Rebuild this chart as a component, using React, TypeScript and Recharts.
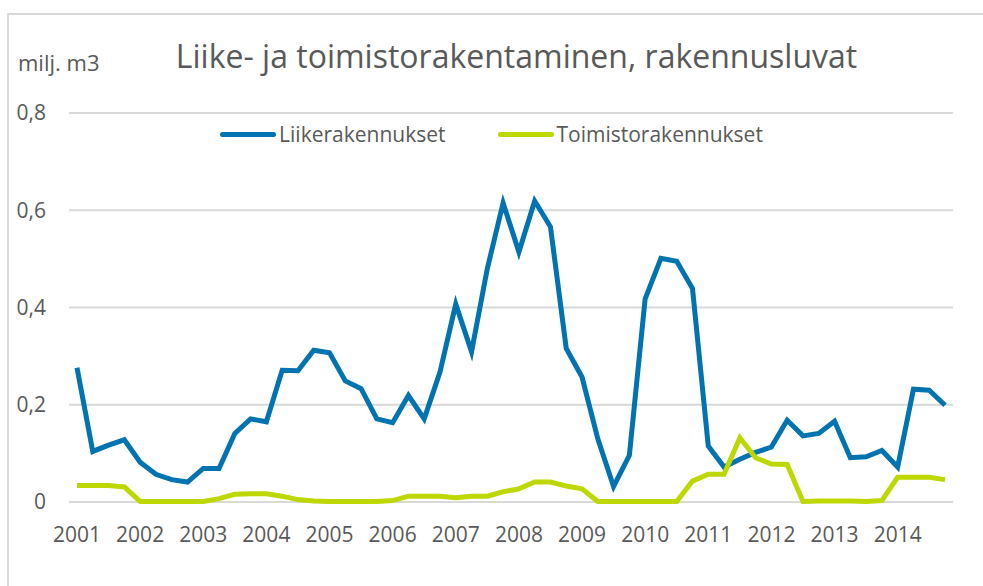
import React from 'react';
import { LineChart, Line, XAxis, YAxis, CartesianGrid, Legend } from 'recharts';

const years = ['2001', '2002', '2003', '2004', '2005', '2006', '2007', '2008', '2009', '2010', '2011', '2012', '2013', '2014'];
const quarters = ['Q1', 'Q2', 'Q3', 'Q4'];
const yTicks = [0, 0.2, 0.4, 0.6, 0.8];

// quarterly values, milj. m3
const liikerakennukset = [
  0.276, 0.104, 0.117, 0.128,
  0.082, 0.057, 0.046, 0.041,
  0.069, 0.069, 0.141, 0.171,
  0.165, 0.271, 0.270, 0.312,
  0.307, 0.249, 0.233, 0.171,
  0.163, 0.219, 0.171, 0.267,
  0.407, 0.309, 0.48, 0.615,
  0.514, 0.619, 0.566, 0.316,
  0.257, 0.130, 0.032, 0.096,
  0.418, 0.501, 0.495, 0.439,
  0.115, 0.072, 0.088, 0.102,
  0.113, 0.168, 0.136, 0.141,
  0.166, 0.091, 0.093, 0.106,
  0.072, 0.232, 0.230, 0.199,
];

const toimistorakennukset = [
  0.034, 0.034, 0.034, 0.031,
  0.001, 0.001, 0.001, 0.001,
  0.001, 0.007, 0.016, 0.017,
  0.017, 0.012, 0.005, 0.002,
  0.001, 0.001, 0.001, 0.001,
  0.003, 0.012, 0.012, 0.012,
  0.009, 0.012, 0.012, 0.021,
  0.027, 0.041, 0.041, 0.033,
  0.027, 0.001, 0.001, 0.001,
  0.001, 0.001, 0.001, 0.043,
  0.057, 0.057, 0.132, 0.091,
  0.078, 0.077, 0.001, 0.002,
  0.002, 0.002, 0.001, 0.003,
  0.051, 0.051, 0.051, 0.046,
];

const categories = years.flatMap((y) => quarters.map((q) => `${y}${q}`));

const data = categories.map((c, i) => ({
  period: c,
  liike: liikerakennukset[i],
  toimisto: toimistorakennukset[i],
}));

const FONT = '"Open Sans", sans-serif';
const TEXT = '#595959';

const renderLegend = (props: any) => {
  const { payload } = props;
  return (
    <div style={{ display: 'flex', justifyContent: 'center', fontFamily: FONT, fontSize: 21, color: TEXT }}>
      {payload.map((p: any, i: number) => (
        <div key={p.value} style={{ display: 'flex', alignItems: 'center', marginLeft: i > 0 ? 52 : 0 }}>
          <span
            style={{
              display: 'inline-block',
              width: 56,
              height: 5,
              borderRadius: 3,
              background: p.color,
              marginRight: 3,
            }}
          />
          <span>{p.value}</span>
        </div>
      ))}
    </div>
  );
};

export default function App() {
  return (
    <div style={{ position: 'absolute', left: 0, top: 0, width: 983, height: 586, background: '#fff' }}>
      <div
        style={{
          position: 'absolute',
          left: 7,
          top: 13,
          width: 1000,
          height: 600,
          border: '2px solid #d9d9d9',
          boxSizing: 'border-box',
        }}
      />
      <div style={{ position: 'absolute', left: 18, top: 47, fontFamily: FONT, fontSize: 22, color: TEXT }}>milj. m3</div>
      <div
        style={{
          position: 'absolute',
          left: 0,
          width: 1033,
          top: 34,
          textAlign: 'center',
          fontFamily: FONT,
          fontSize: 32,
          color: TEXT,
        }}
      >
        Liike- ja toimistorakentaminen, rakennusluvat
      </div>
      <div style={{ position: 'absolute', left: 0, top: 0 }}>
        <LineChart width={983} height={586} data={data} margin={{ top: 113, right: 30, bottom: 24, left: 19 }}>
          <CartesianGrid vertical={false} stroke="#d9d9d9" strokeWidth={2} />
          <XAxis
            dataKey="period"
            interval={3}
            axisLine={false}
            tickLine={false}
            height={60}
            tickMargin={19}
            padding={{ left: 8, right: 8 }}
            tickFormatter={(v: string) => v.slice(0, 4)}
            tick={{ fontFamily: FONT, fontSize: 21, fill: TEXT }}
          />
          <YAxis
            domain={[0, 0.8]}
            ticks={yTicks}
            width={50}
            axisLine={false}
            tickLine={false}
            tickMargin={17}
            tickFormatter={(v: number) => (v === 0 ? '0' : v.toFixed(1).replace('.', ','))}
            tick={{ fontFamily: FONT, fontSize: 21, fill: TEXT }}
          />
          <Legend
            verticalAlign="middle"
            content={renderLegend}
            wrapperStyle={{ top: 120, left: 0, width: 983 }}
          />
          <Line
            name="Liikerakennukset"
            dataKey="liike"
            stroke="#0073b0"
            strokeWidth={5}
            dot={false}
            activeDot={false}
            type="linear"
            isAnimationActive={false}
          />
          <Line
            name="Toimistorakennukset"
            dataKey="toimisto"
            stroke="#bcd800"
            strokeWidth={5}
            dot={false}
            activeDot={false}
            type="linear"
            isAnimationActive={false}
          />
        </LineChart>
      </div>
    </div>
  );
}
